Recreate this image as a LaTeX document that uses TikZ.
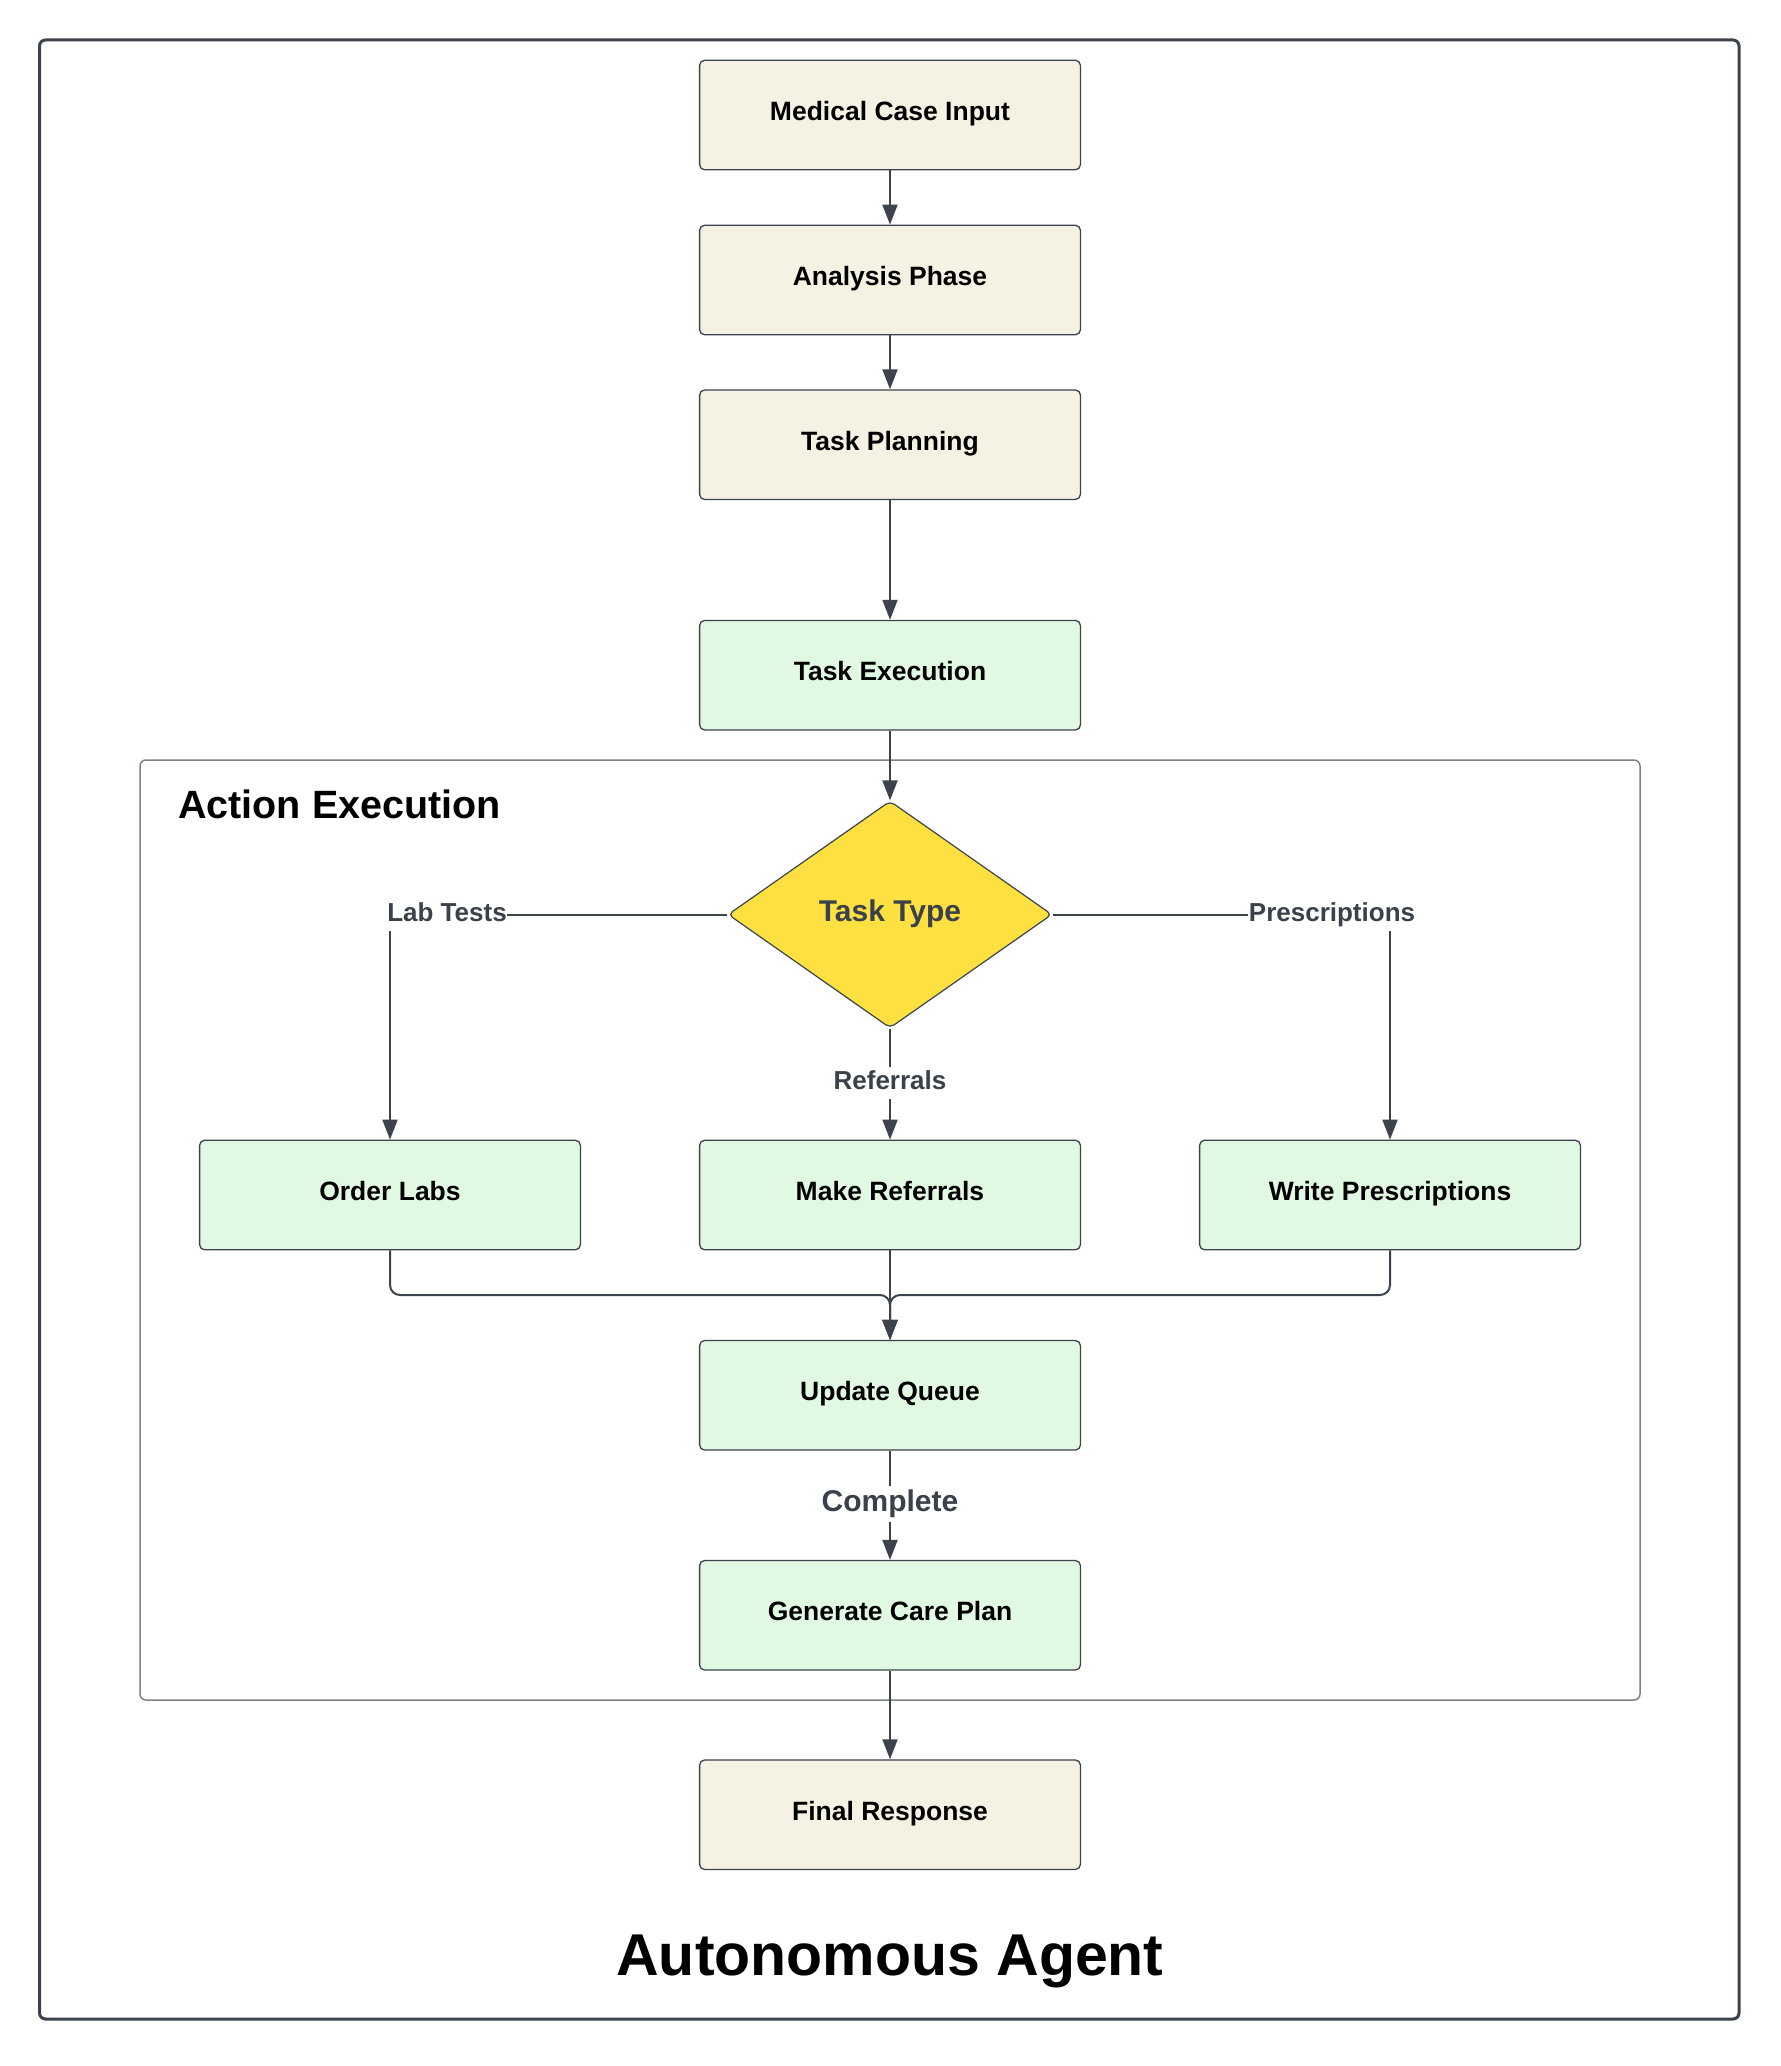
\documentclass[tikz,border=0pt]{standalone}
\usepackage{fontspec}
\setmainfont{Liberation Sans}
\usetikzlibrary{shapes.geometric,arrows.meta}
\definecolor{ln}{RGB}{61,67,77}
\definecolor{beige}{RGB}{245,242,227}
\definecolor{mint}{RGB}{225,249,227}
\definecolor{gold}{RGB}{254,225,64}
\definecolor{lblc}{RGB}{58,65,74}
\definecolor{grpc}{RGB}{125,129,136}
\begin{document}
\begin{tikzpicture}[x=1pt,y=-1pt,
  box/.style={draw=ln, line width=1.3pt, rounded corners=5pt,
    minimum width=380.8pt, minimum height=109.5pt, inner sep=0pt,
    font=\fontsize{26.5}{30}\selectfont\bfseries, text=black,
    text height=19pt, text depth=8pt},
  beigebox/.style={box, fill=beige},
  mintbox/.style={box, fill=mint},
  decision/.style={diamond, draw=ln, line width=1.2pt, fill=gold,
    rounded corners=5pt, minimum width=324pt, minimum height=227pt,
    inner sep=0pt, font=\fontsize{30}{34}\selectfont\bfseries, text=lblc,
    text height=22pt, text depth=9pt},
  arr/.style={draw=ln, line width=2pt, -{Triangle[length=20pt,width=15pt]}},
  lbl/.style={fill=white, inner xsep=0.5pt, inner ysep=3pt, text=lblc,
    font=\fontsize{26}{30}\selectfont\bfseries, text height=19.5pt, text depth=6.5pt},
  biglbl/.style={fill=white, inner xsep=0.5pt, inner ysep=3pt, text=lblc,
    font=\fontsize{30}{34}\selectfont\bfseries, text height=22.5pt, text depth=7.5pt}
]
\useasboundingbox (0,0) rectangle (1780,2066);
\fill[white] (0,0) rectangle (1780,2066);

% outer frame
\draw[ln, line width=3pt, rounded corners=6pt] (39.5,40) rectangle (1739,2019);
% group frame
\draw[grpc, line width=1.5pt, rounded corners=6pt] (140,760) rectangle (1640,1700);

% nodes
\node[beigebox] (mci) at (890,115) {Medical Case Input};
\node[beigebox] (ap) at (890,280) {Analysis Phase};
\node[beigebox] (tp) at (890,444.7) {Task Planning};
\node[mintbox] (te) at (890,675.2) {Task Execution};
\node[decision] (tt) at (890,914.5) {Task Type};
\node[mintbox] (ol) at (390,1195) {Order Labs};
\node[mintbox] (mr) at (890,1195) {Make Referrals};
\node[mintbox] (wp) at (1390,1195) {Write Prescriptions};
\node[mintbox] (uq) at (890,1395.3) {Update Queue};
\node[mintbox] (gcp) at (890,1615.3) {Generate Care Plan};
\node[beigebox] (fr) at (890,1814.7) {Final Response};

% titles
\node[anchor=base west, inner sep=0pt, font=\fontsize{39.5}{44}\selectfont\bfseries] (aetitle) at (178,818) {Action Execution};
\node[anchor=base, inner sep=0pt, font=\fontsize{59}{65}\selectfont\bfseries] (agtitle) at (890,1975) {Autonomous Agent};

% connectors
\draw[arr] (mci) -- (ap);
\draw[arr] (ap) -- (tp);
\draw[arr] (tp) -- (te);
\draw[arr] (te) -- (tt.north);
\draw[arr] (tt.west) -| (ol.north);
\draw[arr] (tt.east) -| (wp.north);
\draw[arr] (tt.south) -- (mr.north);
\draw[arr] (mr) -- (uq);
\draw[arr, rounded corners=10pt] (ol.south) |- (890,1295) -- (uq.north);
\draw[arr, rounded corners=10pt] (wp.south) |- (890,1295) -- (uq.north);
\draw[arr] (uq) -- (gcp);
\draw[arr] (gcp) -- (fr);

% connector labels
\node[lbl, anchor=base] (llab) at (447,921.7) {Lab Tests};
\node[lbl, anchor=base] (lpre) at (1332,921.7) {Prescriptions};
\node[lbl, anchor=base] (lref) at (890,1089.3) {Referrals};
\node[biglbl, anchor=base] (lcom) at (890,1511) {Complete};
\end{tikzpicture}
\end{document}
